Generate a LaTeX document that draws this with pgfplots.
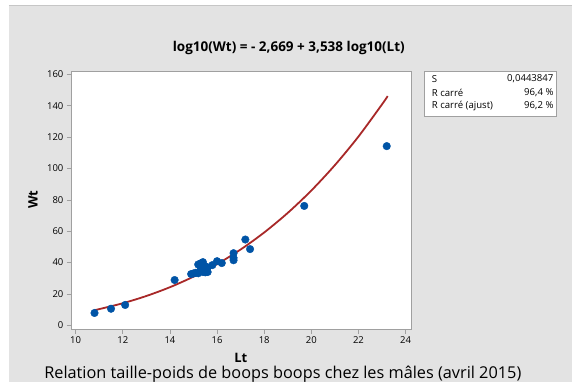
\documentclass[border=0pt]{standalone}
\usepackage{fontspec}
\setmainfont{Open Sans}
\usepackage{pgfplots}
\pgfplotsset{compat=1.18}

\definecolor{bgray}{RGB}{227,227,227}
\definecolor{fgray}{RGB}{160,160,160}
\definecolor{ptblue}{RGB}{0,84,166}
\definecolor{fitred}{RGB}{168,40,40}

\begin{document}
\begin{tikzpicture}[x=1pt,y=1pt]
% canvas and panel
\fill[white] (0,0) rectangle (572,-383);
\fill[bgray] (9,-5) rectangle (572,-382);
\draw[fgray!60, line width=0.8pt] (9,-5.4) -- (572,-5.4);

\begin{axis}[
    at={(71pt,-330pt)}, anchor=south west,
    scale only axis,
    width=341pt, height=259pt,
    xmin=9.8, xmax=24.26,
    ymin=-2.8, ymax=162.1,
    xtick={10,12,...,24},
    ytick={0,20,...,160},
    axis background/.style={fill=white},
    axis line style={fgray, line width=0.8pt},
    tick style={fgray, line width=0.6pt},
    major tick length=4pt,
    tick align=outside,
    xtick pos=bottom, ytick pos=left,
    tick label style={font=\fontsize{9.5}{11}\selectfont},
    /pgf/number format/assume math mode=true,
    xticklabel style={yshift=1pt},
    clip=false,
]
% fitted line, log10(Wt) = -2.669 + 3.538 log10(Lt)
\addplot[fitred, line width=1.8pt, smooth] coordinates {
    (10.8,9.71) (11,10.36) (12,14.10) (13,18.72) (14,24.32) (15,31.05)
    (16,39.01) (17,48.34) (18,59.18) (19,71.66) (20,85.91) (21,102.1)
    (22,120.3) (23,140.8) (23.24,146.1)
};
% observations
\addplot[only marks, mark=*, mark size=3.8pt, ptblue] coordinates {
    (10.8,7.9) (11.5,10.6) (12.1,13.0) (14.2,28.9) (14.9,32.7) (15.0,33.1)
    (15.1,33.5) (15.2,38.8) (15.2,33.2) (15.3,35.5) (15.3,39.5) (15.4,40.3)
    (15.4,34.0) (15.5,37.5) (15.5,33.8) (15.6,34.0) (15.6,37.0) (15.8,38.4)
    (16.0,40.9) (16.2,39.7) (16.7,46.0) (16.7,43.0) (16.7,41.5) (17.2,54.7)
    (17.4,48.6) (19.7,76.1) (23.2,114.2)
};
\end{axis}

% titles and labels
\node[font=\fontsize{13.5}{15}\selectfont\bfseries] at (289,-48) {log10(Wt) = - 2,669 + 3,538 log10(Lt)};
\node[font=\fontsize{13}{15}\selectfont\bfseries, rotate=90] at (33,-200) {Wt};
\node[font=\fontsize{13}{15}\selectfont\bfseries] at (241,-358) {Lt};
\node[font=\fontsize{16.3}{18}\selectfont] at (283,-374) {Relation taille-poids de boops boops chez les mâles (avril 2015)};

% summary box
\draw[fgray, line width=0.8pt, fill=white] (425,-71) rectangle (557,-116);
\begin{scope}[every node/.style={font=\fontsize{9.6}{11}\selectfont, inner sep=0pt}]
\node[anchor=west] at (432,-79) {S};
\node[anchor=east] at (554,-79) {0,0443847};
\node[anchor=west] at (432,-93) {R carré};
\node[anchor=east] at (554,-93) {96,4 \%};
\node[anchor=west] at (432,-106) {R carré (ajust)};
\node[anchor=east] at (554,-106) {96,2 \%};
\end{scope}
\end{tikzpicture}
\end{document}
